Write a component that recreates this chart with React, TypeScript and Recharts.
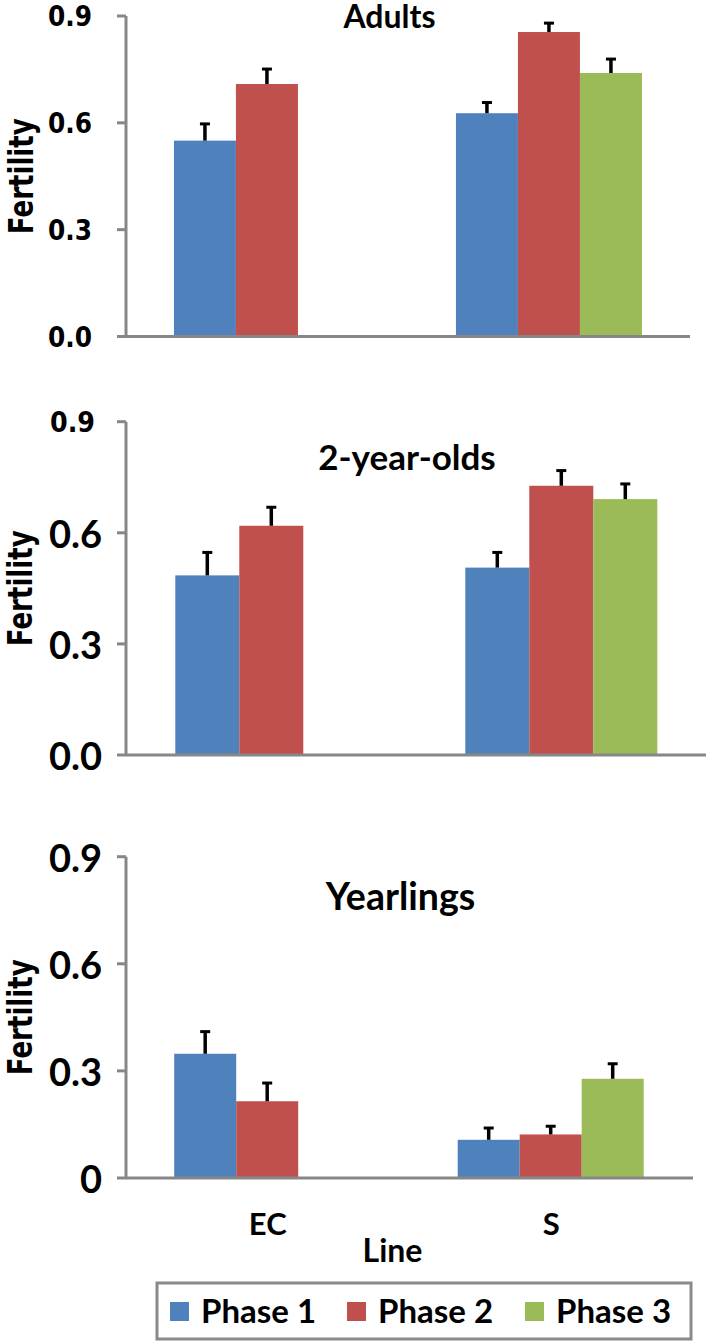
import { Bar, BarChart, Label, XAxis, YAxis } from "recharts"

const lines = ["EC", "S"]
const phases = ["Phase 1", "Phase 2", "Phase 3"]
const phaseColors = ["#4F81BD", "#C0504D", "#9BBB59"]
const yTicks = [0, 0.3, 0.6, 0.9]

// Adults
const adultsPhase1 = [0.55, 0.627]
const adultsPhase2 = [0.709, 0.855]
const adultsPhase3 = [null, 0.74]
const adultsErr1 = [0.047, 0.03]
const adultsErr2 = [0.042, 0.025]
const adultsErr3 = [null, 0.039]

// 2-year-olds
const twoYearPhase1 = [0.485, 0.506]
const twoYearPhase2 = [0.619, 0.727]
const twoYearPhase3 = [null, 0.691]
const twoYearErr1 = [0.062, 0.041]
const twoYearErr2 = [0.05, 0.041]
const twoYearErr3 = [null, 0.041]

// Yearlings
const yearlingPhase1 = [0.348, 0.107]
const yearlingPhase2 = [0.215, 0.122]
const yearlingPhase3 = [null, 0.278]
const yearlingErr1 = [0.062, 0.033]
const yearlingErr2 = [0.051, 0.023]
const yearlingErr3 = [null, 0.042]

const AXIS = "#878787"
const WIDE = "'DejaVu Sans', Verdana, sans-serif"
const NARROW = "Lato, 'Open Sans', sans-serif"

type Val = number | null

function buildRows(means: Val[][], errs: Val[][]) {
  return lines.map((line, i) => ({
    line,
    p1: means[0][i],
    p2: means[1][i],
    p3: means[2][i],
    e1: errs[0][i],
    e2: errs[1][i],
    e3: errs[2][i],
  }))
}

const adultsRows = buildRows(
  [adultsPhase1, adultsPhase2, adultsPhase3],
  [adultsErr1, adultsErr2, adultsErr3],
)
const twoYearRows = buildRows(
  [twoYearPhase1, twoYearPhase2, twoYearPhase3],
  [twoYearErr1, twoYearErr2, twoYearErr3],
)
const yearlingRows = buildRows(
  [yearlingPhase1, yearlingPhase2, yearlingPhase3],
  [yearlingErr1, yearlingErr2, yearlingErr3],
)

// bar + upper-only error whisker, scaled off the bar's own pixel height
function barWithError(valueKey: string, errKey: string) {
  return (props: any) => {
    const { x, y, width, height, fill, payload } = props
    const v = payload?.[valueKey]
    if (v == null || !height) return <g />
    const err = payload[errKey] ?? 0
    const top = y - (err * height) / v
    const cx = x + width / 2
    return (
      <g>
        <rect x={x} y={y} width={width} height={height} fill={fill} />
        <line x1={cx} x2={cx} y1={y} y2={top} stroke="#000" strokeWidth={3.5} />
        <line x1={cx - 5} x2={cx + 5} y1={top} y2={top} stroke="#000" strokeWidth={3} />
      </g>
    )
  }
}

// the wide (Verdana-like) labels in the source are squeezed sideways
type TickStyle = { family: string; size: number; dx: number; length?: number }

type PanelProps = {
  rows: ReturnType<typeof buildRows>
  top: number
  height: number
  margin: { top: number; right: number; bottom: number; left: number }
  xHeight: number
  tickStyle: (v: number) => TickStyle
  formatTick: (v: number) => string
  showCategories?: boolean
}

function Panel({ rows, top, height, margin, xHeight, tickStyle, formatTick, showCategories }: PanelProps) {
  const yTick = (props: any) => {
    const v = Number(props.payload.value)
    const s = tickStyle(v)
    return (
      <text
        x={props.x + s.dx}
        y={props.y}
        textAnchor="end"
        dominantBaseline="central"
        fontFamily={s.family}
        fontSize={s.size}
        fontWeight={700}
        fill="#000"
        textLength={s.length}
        lengthAdjust={s.length ? "spacingAndGlyphs" : undefined}
      >
        {formatTick(v)}
      </text>
    )
  }
  const xTick = (props: any) => (
    <text
      x={props.x}
      y={props.y + 57}
      textAnchor="middle"
      fontFamily={NARROW}
      fontSize={31}
      fontWeight={700}
      fill="#000"
    >
      {props.payload.value}
    </text>
  )
  return (
    <div style={{ position: "absolute", left: 0, top }}>
      <BarChart
        width={708}
        height={height}
        data={rows}
        margin={margin}
        barGap={0}
        barCategoryGap="17%"
        style={{ overflow: "visible" }}
      >
        <XAxis
          dataKey="line"
          type="category"
          height={xHeight}
          axisLine={{ stroke: AXIS, strokeWidth: 3 }}
          tickLine={false}
          tickSize={0}
          tickMargin={0}
          tick={showCategories ? xTick : false}
        />
        <YAxis
          type="number"
          domain={[0, 0.9]}
          ticks={yTicks}
          interval={0}
          width={126}
          tickSize={9}
          tickMargin={0}
          axisLine={{ stroke: AXIS, strokeWidth: 3 }}
          tickLine={{ stroke: AXIS, strokeWidth: 3 }}
          tick={yTick}
        >
          <Label
            content={(p: any) => {
              const vb = p.viewBox
              const cx = 21
              const cy = vb.y + vb.height / 2
              return (
                <text
                  x={cx}
                  y={cy}
                  transform={`rotate(-90 ${cx} ${cy})`}
                  textAnchor="middle"
                  dominantBaseline="central"
                  fontFamily={WIDE}
                  fontSize={33}
                  fontWeight={700}
                  fill="#000"
                  textLength={116}
                  lengthAdjust="spacingAndGlyphs"
                >
                  Fertility
                </text>
              )
            }}
          />
        </YAxis>
        {["p1", "p2", "p3"].map((k, i) => (
          <Bar
            key={k}
            dataKey={k}
            name={phases[i]}
            fill={phaseColors[i]}
            isAnimationActive={false}
            shape={barWithError(k, `e${i + 1}`)}
          />
        ))}
      </BarChart>
    </div>
  )
}

const titleStyle = { fontFamily: NARROW, fontWeight: 700, fill: "#000" }

export default function App() {
  const legendX = [170, 347, 525]
  return (
    <div style={{ position: "absolute", left: 0, top: 0, width: 708, height: 1342, background: "#fff" }}>
      <Panel
        rows={adultsRows}
        top={0}
        height={360}
        margin={{ top: 16, right: 18, bottom: 22.5, left: 0 }}
        xHeight={1}
        tickStyle={() => ({ family: WIDE, size: 29, dx: -25, length: 44 })}
        formatTick={(v) => v.toFixed(1)}
      />
      <Panel
        rows={twoYearRows}
        top={400}
        height={380}
        margin={{ top: 21.7, right: 2, bottom: 24, left: 0 }}
        xHeight={1}
        tickStyle={(v) =>
          v === 0.9
            ? { family: WIDE, size: 29, dx: -22, length: 45 }
            : { family: NARROW, size: 38, dx: -15 }
        }
        formatTick={(v) => v.toFixed(1)}
      />
      <Panel
        rows={yearlingRows}
        top={820}
        height={460}
        margin={{ top: 36.7, right: 15, bottom: 0, left: 0 }}
        xHeight={102}
        tickStyle={() => ({ family: NARROW, size: 38, dx: -15 })}
        formatTick={(v) => (v === 0 ? "0" : v.toFixed(1))}
        showCategories
      />
      <svg width={708} height={1342} style={{ position: "absolute", left: 0, top: 0, pointerEvents: "none" }}>
        <text x={389.5} y={28} textAnchor="middle" fontSize={32} {...titleStyle}>
          Adults
        </text>
        <text x={407} y={470} textAnchor="middle" fontSize={35} {...titleStyle}>
          2-year-olds
        </text>
        <text x={400.5} y={910} textAnchor="middle" fontSize={37.5} {...titleStyle}>
          Yearlings
        </text>
        <text x={392.5} y={1262} textAnchor="middle" fontSize={32} {...titleStyle}>
          Line
        </text>
        <rect x={157} y={1283} width={534} height={56} fill="#fff" stroke="#8a8a8a" strokeWidth={3} />
        {phases.map((p, i) => (
          <g key={p}>
            <rect x={legendX[i]} y={1302} width={19} height={19} fill={phaseColors[i]} />
            <text x={legendX[i] + 31} y={1323} fontSize={33} {...titleStyle}>
              {p}
            </text>
          </g>
        ))}
      </svg>
    </div>
  )
}
